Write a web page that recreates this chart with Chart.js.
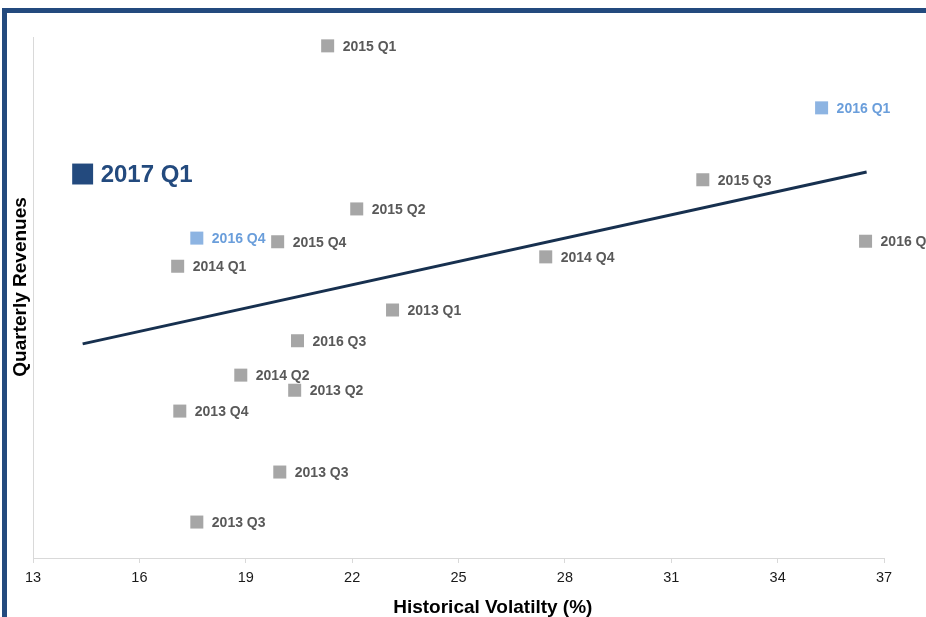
<!DOCTYPE html>
<html>
<head>
<meta charset="utf-8">
<script src="https://cdn.jsdelivr.net/npm/chart.js@4"></script>
<style>
  html, body { margin: 0; padding: 0; background: #fff; overflow: hidden; }
  body { width: 926px; height: 617px; position: relative; }
  .frame { position: absolute; left: 2px; top: 8px; width: 1000px; height: 700px; border: 5px solid #234a7e; box-sizing: border-box; }
  #wrap { position: absolute; left: 0; top: 0; width: 926px; height: 617px; }
</style>
</head>
<body>
<div class="frame"></div>
<div id="wrap"><canvas id="volChart"></canvas></div>
<script>
// datos del gráfico
const quarters = ['2015 Q1', '2017 Q1', '2016 Q1', '2015 Q3', '2016 Q2', '2014 Q4', '2015 Q2', '2016 Q4', '2015 Q4',
                  '2014 Q1', '2013 Q1', '2016 Q3', '2014 Q2', '2013 Q2', '2013 Q4', '2013 Q3', '2013 Q3'];
const volatility = [21.31, 14.40, 35.24, 31.89, 36.48, 27.46, 22.13, 17.62, 19.90,
                    17.08, 23.14, 20.46, 18.86, 20.38, 17.14, 19.96, 17.62];
const revenues = [98.3, 73.7, 86.4, 72.6, 60.8, 57.8, 67.0, 61.4, 60.7,
                  56.0, 47.6, 41.7, 35.1, 32.2, 28.2, 16.5, 6.9];
// 'cur' = trimestre actual, 'hi' = resaltado, 'std' = resto
const kinds = ['std', 'cur', 'hi', 'std', 'std', 'std', 'std', 'hi', 'std',
               'std', 'std', 'std', 'std', 'std', 'std', 'std', 'std'];
const trendX = [14.40, 36.51];
const trendY = [41.1, 74.1];
const xTicks = [13, 16, 19, 22, 25, 28, 31, 34, 37];

const FONT = "'Liberation Sans', Arial, sans-serif";
const styles = {
    std: { fill: '#a6a6a6', text: '#595959', radius: 9.2, size: 14, gap: 15 },
    hi:  { fill: '#8db4e2', text: '#6a9edb', radius: 9.2, size: 14, gap: 15 },
    cur: { fill: '#234a7e', text: '#234a7e', radius: 14.8, size: 24, gap: 18 }
};

const points = volatility.map((v, i) => ({ x: v, y: revenues[i] }));
const trend = trendX.map((v, i) => ({ x: v, y: trendY[i] }));

// etiquetas junto a cada punto
const pointLabels = {
    id: 'pointLabels',
    afterDatasetsDraw(chart) {
        const meta = chart.getDatasetMeta(1);
        const ctx = chart.ctx;
        ctx.save();
        ctx.textBaseline = 'middle';
        ctx.textAlign = 'left';
        meta.data.forEach((el, i) => {
            const s = styles[kinds[i]];
            ctx.font = 'bold ' + s.size + 'px ' + FONT;
            ctx.fillStyle = s.text;
            ctx.fillText(quarters[i], el.x + s.gap, el.y + 1);
        });
        ctx.restore();
    }
};

const ctx = document.getElementById('volChart');
new Chart(ctx, {
    type: 'scatter',
    data: {
        datasets: [{
            type: 'line',
            data: trend,
            borderColor: '#17304f',
            borderWidth: 3,
            pointRadius: 0,
            fill: false,
            order: 2
        }, {
            data: points,
            pointStyle: 'rect',
            pointRadius: kinds.map(k => styles[k].radius),
            pointBackgroundColor: kinds.map(k => styles[k].fill),
            pointBorderColor: kinds.map(k => styles[k].fill),
            pointBorderWidth: 0,
            clip: false,
            order: 1
        }]
    },
    options: {
        responsive: true,
        maintainAspectRatio: false,
        animation: false,
        layout: { padding: { top: 37, right: 42, bottom: 0, left: 0 } },
        plugins: { legend: { display: false }, tooltip: { enabled: false } },
        scales: {
            x: {
                type: 'linear',
                min: 13,
                max: 37,
                afterBuildTicks: (scale) => { scale.ticks = xTicks.map(v => ({ value: v })); },
                afterFit: (scale) => { scale.height = 59; },
                grid: { display: true, drawOnChartArea: false, drawTicks: true, tickLength: 5, color: '#d9d9d9' },
                border: { display: true, color: '#d9d9d9', width: 1 },
                ticks: { color: '#1a1a1a', font: { family: FONT, size: 14.5 }, padding: 6 },
                title: {
                    display: true,
                    text: '             Historical Volatilty (%)',
                    color: '#000',
                    font: { family: FONT, size: 19, weight: 'bold' },
                    padding: { top: 0, bottom: -2 }
                }
            },
            y: {
                min: 0,
                max: 100,
                afterFit: (scale) => { scale.width = 33; },
                grid: { display: false },
                border: { display: true, color: '#d9d9d9', width: 1 },
                ticks: { display: false },
                title: {
                    display: true,
                    text: '    Quarterly Revenues',
                    color: '#000',
                    font: { family: FONT, size: 19, weight: 'bold' },
                    padding: { top: 9, bottom: 0 }
                }
            }
        }
    },
    plugins: [pointLabels]
});
</script>
</body>
</html>
